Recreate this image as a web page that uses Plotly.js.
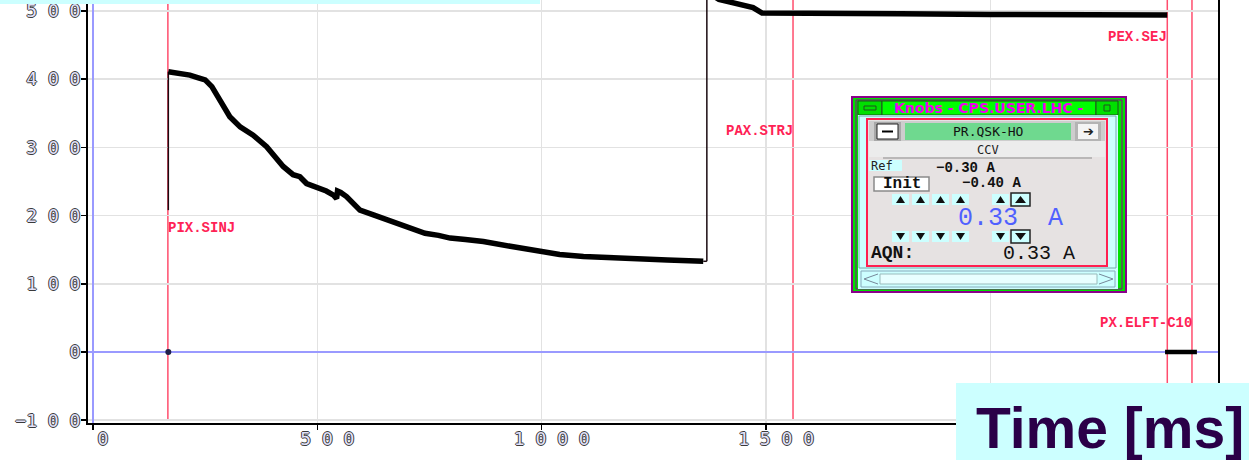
<!DOCTYPE html>
<html><head><meta charset="utf-8">
<script src="https://cdn.plot.ly/plotly-3.0.1.min.js"></script>
<style>html,body{margin:0;padding:0;background:#fff;overflow:hidden}#chart{width:1249px;height:460px}</style>
</head><body><div id="chart"></div>
<script>
// ---------------- data ----------------
const injTime  = [168,180,195,216,235,250,265,283,305,328,357,387,424,446,461,476,499,506,520,536,543,545,552,565,580,595,625,647,669,690,713,740,770,796,830,870,930,996,1040,1093,1150,1204,1280,1360];
const injValue = [411,410,409,406,402,399,389,369,345,330,318,301,272,260,257,247,242,240,236,230,225,236,234,228,218,208,201,196,191,185,179,174,171,167,165,162,155,147,143,140,138,136,135,133];
const flatTime  = [1368,1395,1420,1449,1471,1491,1600,1800,2000,2200,2394];
const flatValue = [528,517,513,509,505,497,496,496,495,495,494];
const jumpTime = [168,1368];
const jumpLow  = [208,133];
const jumpHigh = [411,528];
const zeroDotTime = [168];
const zeroDotValue = [0];
const extrTime  = [2389,2460];
const extrValue = [0,0];
const eventNames  = ['PIX.SINJ','PAX.STRJ','PEX.SEJ','PX.ELFT-C10'];
const eventTimes  = [167,1560,2394,2449];
const eventLevels = [182,324,462,42];
const yTickVals = [-100,0,100,200,300,400,500];
const yTickText = ['\u22121 0 0','0','1 0 0','2 0 0','3 0 0','4 0 0','5 0 0'];
const xTickVals = [0,500,1000,1500,2000];
const xTickText = ['0','5 0 0','1 0 0 0','1 5 0 0',''];

// ---------------- geometry helpers ----------------
const W=1249,H=460,ML=88,MR=31,MT=0,MB=37;
const PW=W-ML-MR, PH=H-MT-MB;
const X=p=>(p-ML)/PW;
const Y=p=>(H-MB-p)/PH;
const shapes=[], annotations=[];
function box(x0,y0,x1,y1,fill,line,lw){
  shapes.push({type:'rect',xref:'paper',yref:'paper',x0:X(x0),x1:X(x1),y0:Y(y1),y1:Y(y0),
    fillcolor:fill||'rgba(0,0,0,0)',line:{color:line||'rgba(0,0,0,0)',width:line?(lw||1):0},layer:'above'});
}
function tri(x0,y0,x1,y1,dir,color){
  const xm=(x0+x1)/2, ym=(y0+y1)/2; let p;
  if(dir==='up') p=`M${X(x0)},${Y(y1)} L${X(x1)},${Y(y1)} L${X(xm)},${Y(y0)} Z`;
  else if(dir==='down') p=`M${X(x0)},${Y(y0)} L${X(x1)},${Y(y0)} L${X(xm)},${Y(y1)} Z`;
  else if(dir==='left') p=`M${X(x1)},${Y(y0)} L${X(x1)},${Y(y1)} L${X(x0)},${Y(ym)} Z`;
  else p=`M${X(x0)},${Y(y0)} L${X(x0)},${Y(y1)} L${X(x1)},${Y(ym)} Z`;
  shapes.push({type:'path',xref:'paper',yref:'paper',path:p,fillcolor:color,line:{width:0},layer:'above'});
}
function triLine(x0,y0,x1,y1,dir,color){
  const ym=(y0+y1)/2; let p;
  if(dir==='left') p=`M${X(x1)},${Y(y0)} L${X(x0)},${Y(ym)} L${X(x1)},${Y(y1)}`;
  else p=`M${X(x0)},${Y(y0)} L${X(x1)},${Y(ym)} L${X(x0)},${Y(y1)}`;
  shapes.push({type:'path',xref:'paper',yref:'paper',path:p,line:{color:color,width:1},layer:'above'});
}
function txt(x,y,s,size,color,family,anchor,weight){
  annotations.push({xref:'paper',yref:'paper',x:X(x),y:Y(y),text:s,showarrow:false,
    xanchor:anchor||'center',yanchor:'middle',borderpad:0,
    font:{size:size,color:color,family:family,weight:weight||'normal'}});
}

// ---------------- traces ----------------
const thinX=[], thinY=[];
for(let i=0;i<jumpTime.length;i++){ thinX.push(jumpTime[i],jumpTime[i],null); thinY.push(jumpLow[i],jumpHigh[i],null); }
thinX.push(injTime[injTime.length-1], jumpTime[1]); thinY.push(injValue[injValue.length-1], jumpLow[1]);

const traces=[
  {x:thinX,y:thinY,mode:'lines',line:{color:'#1a0a10',width:1.5},hoverinfo:'skip',connectgaps:false},
  {x:injTime,y:injValue,mode:'lines',line:{color:'#000',width:5.5},hoverinfo:'skip'},
  {x:flatTime,y:flatValue,mode:'lines',line:{color:'#000',width:5.5},hoverinfo:'skip'},
  {x:extrTime,y:extrValue,mode:'lines',line:{color:'#000',width:4.5},hoverinfo:'skip'},
  {x:zeroDotTime,y:zeroDotValue,mode:'markers',marker:{color:'#20204a',size:6},hoverinfo:'skip'}
];

// event lines and labels
eventTimes.forEach((t,i)=>{
  shapes.push({type:'line',xref:'x',yref:'paper',x0:t,x1:t,y0:0.006,y1:1,line:{color:'#ff4d6d',width:1.5},layer:'below'});
  annotations.push({xref:'x',yref:'y',x:t,y:eventLevels[i],text:eventNames[i],showarrow:false,
    xanchor:i===0?'left':'right',yanchor:'middle',borderpad:0,xshift:i===0?-1:1,
    font:{family:'Liberation Mono, monospace',size:14,color:'#ff2255',weight:'bold'}});
});

// top cyan strip
box(0,0,540,4,'#ccffff');

// ---------------- Knobs widget ----------------
box(851,96,1127,293,'#8a008a');
box(853,98,1125,291,'#00e000');
box(856,100,1122,289,null,'#8a008a',1);
// title bar
box(858,101,882,115,'#00e000','#205020',1);
box(864,106,876,110,'#00e000','#205020',1);
box(882,101,1096,115,'#00ff00','#205020',1);
txt(988,108.5,'Knobs - CPS.USER.LHC -',14,'#ee00ee','DejaVu Sans','center','bold');
box(1096,101,1118,115,'#00e000','#205020',1);
box(1104,105,1110,111,null,'#205020',1);
// body
box(858,115,1118,289,'#ccffff');
box(859,116,1116,268,null,'#7aa',1);
box(867,119,1107,266,'#e6e2e2','#ff2050',2);
// header
box(869,121,1105,141,'#cdcdcd');
box(874,122,901,141,'#a8a8a8');
box(877,124,898,139,'#ffffff','#202020',1);
box(882,130.5,893,132.5,'#000');
box(905,123,1071,140,'#6fd98f');
txt(988,131.5,'PR.QSK-HO',13,'#111','DejaVu Sans Mono');
box(1075,122,1101,141,'#b4b4b4');
box(1078,124,1098,139,'#f4f4f4');
txt(1088,131.5,'\u2794',13,'#222','DejaVu Sans');
// CCV
box(869,141,1105,157,'#ececec');
txt(988,150,'CCV',12,'#222','DejaVu Sans Mono');
box(883,157.5,1092,158.5,'#8c8c8c');
// Ref / Init
box(869,160,902,171,'#ccffff');
txt(870,166,'Ref',12,'#222','DejaVu Sans Mono','left');
txt(935,168,'\u22120.30 A',14,'#111','Liberation Mono','left','bold');
box(874,177,929,191,'#ffffff','#8a8a8a',1.5);
txt(901.5,184,'Init',16,'#111','Liberation Mono','center','bold');
txt(961,183,'\u22120.40 A',14,'#111','Liberation Mono','left','bold');
// arrows
const btnX=[892,912,932,952,992];
btnX.forEach(x=>{ box(x,194,x+17,205,'#ccffff'); tri(x+4,196,x+13,203,'up','#111');
                  box(x,231,x+17,242,'#ccffff'); tri(x+4,233,x+13,240,'down','#111'); });
box(1011,193,1030,206,'#ccffff','#222',1.5); tri(1015,196,1026,203,'up','#111');
box(1011,230,1030,243,'#ccffff','#222',1.5); tri(1015,233,1026,240,'down','#111');
txt(1010,218,'0.33  A',25,'#5060ff','Liberation Mono');
// AQN
txt(870,253,'AQN:',18,'#111','Liberation Mono','left','bold');
txt(1002,253,'0.33 A',20,'#111','Liberation Mono','left');
// scrollbar
box(861,271,1115,287,'#ccffff','#8ab',1);
box(880,274,1097,284,'#e8ffff','#9bb',1);
triLine(864,274,878,284,'left','#789');
triLine(1099,274,1113,284,'right','#789');

// ---------------- axis title box ----------------
box(956,383,1249,460,'#ccffff');
txt(975,428,'Time [ms]',57,'#2a0048','Liberation Sans','left','bold');

const tickFont={family:'DejaVu Sans Mono, monospace',size:18,color:'#e2e2fa',
  shadow:'1px 0 0 #3a3a3a, -1px 0 0 #3a3a3a, 0 1px 0 #3a3a3a, 0 -1px 0 #3a3a3a'};

const layout={
  width:W,height:H,margin:{l:ML,r:MR,t:MT,b:MB,pad:0},
  paper_bgcolor:'#fff',plot_bgcolor:'#fff',showlegend:false,
  xaxis:{range:[-11,2507],tickmode:'array',tickvals:xTickVals,ticktext:xTickText,
    ticks:'outside',ticklen:5,tickwidth:1.5,tickcolor:'#000',ticklabelshift:10,ticklabelstandoff:-7,
    showline:true,linecolor:'#000',linewidth:2,mirror:true,
    showgrid:true,gridcolor:'#e2e2e2',gridwidth:1.5,
    zeroline:true,zerolinecolor:'#9a9aff',zerolinewidth:2,tickfont:tickFont},
  yaxis:{range:[-104.1,516.1],tickmode:'array',tickvals:yTickVals,ticktext:yTickText,
    ticks:'outside',ticklen:5,tickwidth:1.5,tickcolor:'#000',ticklabelstandoff:-3,
    showline:true,linecolor:'#000',linewidth:2,mirror:true,
    showgrid:true,gridcolor:'#e2e2e2',gridwidth:1.5,
    zeroline:true,zerolinecolor:'#9a9aff',zerolinewidth:2,tickfont:tickFont},
  shapes:shapes,annotations:annotations
};
Plotly.newPlot('chart',traces,layout,{staticPlot:true,displayModeBar:false});
</script></body></html>
